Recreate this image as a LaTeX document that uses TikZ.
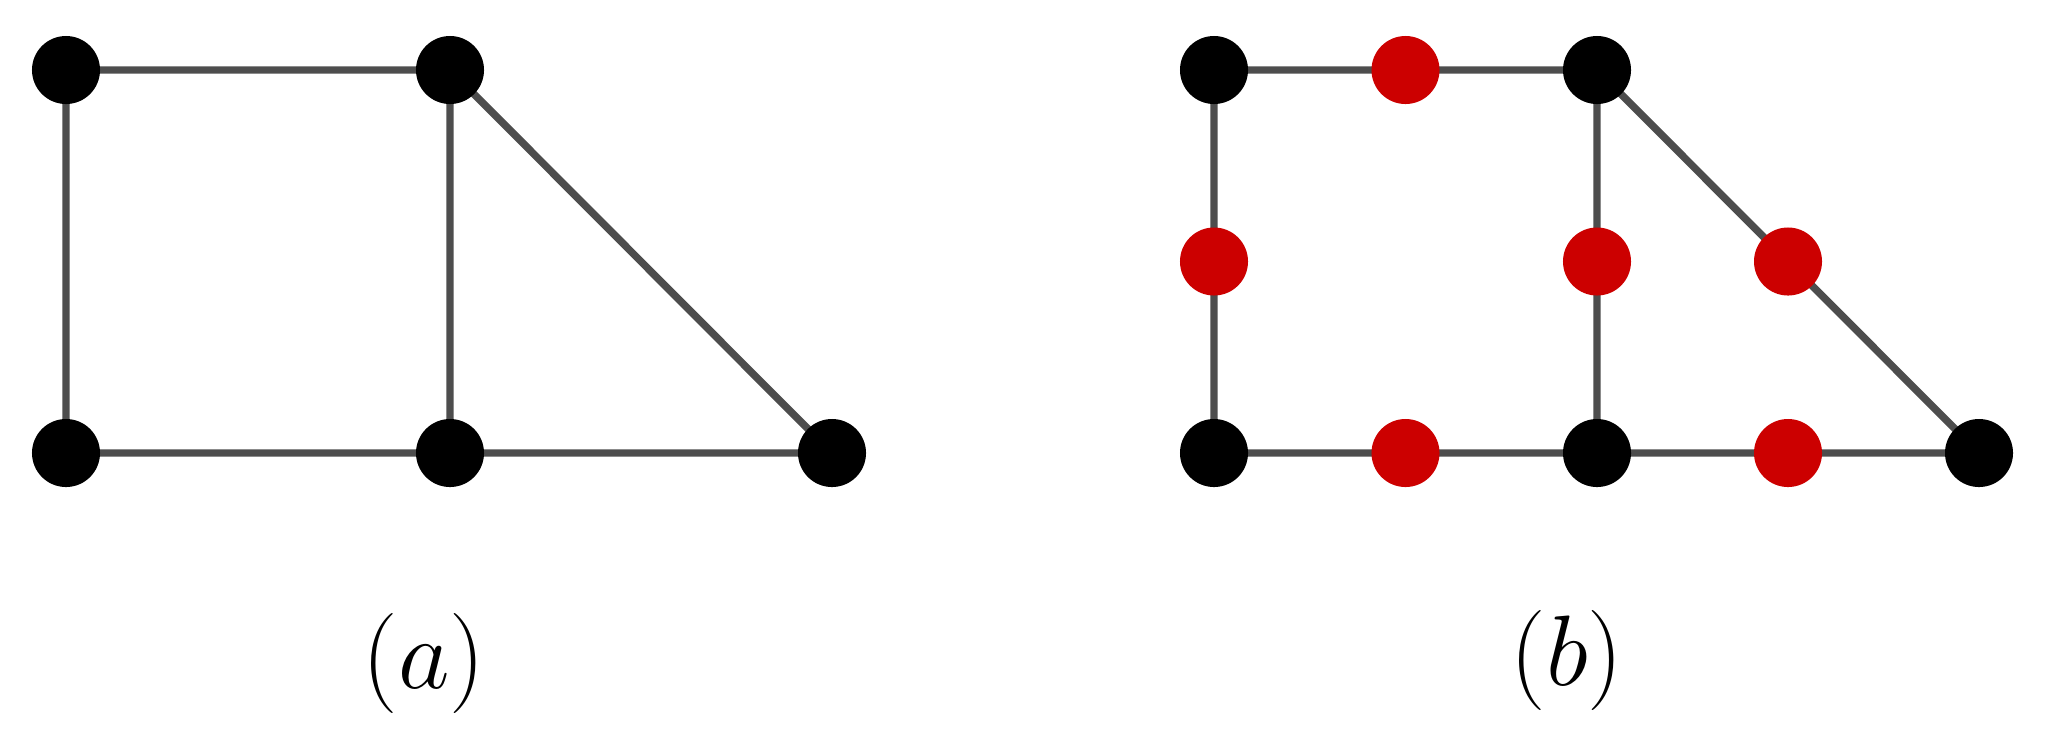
\documentclass[tikz,border=0pt]{standalone}
\usepackage{graphicx}
\usetikzlibrary{calc}
\definecolor{edgegray}{HTML}{4D4D4D}
\definecolor{vred}{HTML}{CC0000}
\newcommand{\biglbl}[1]{\scalebox{1.145}{\Huge$(#1)$}}
\begin{document}
\begin{tikzpicture}[x=0.01cm,y=-0.01cm,
  vtx/.style={circle,fill=black,inner sep=0pt,minimum size=0.68cm},
  rvtx/.style={circle,fill=vred,inner sep=0pt,minimum size=0.68cm},
  edge/.style={draw=edgegray,line width=2.1pt},
  lbl/.style={inner sep=0pt}]
\useasboundingbox (0,0) rectangle (2045,735);
% (a)
\coordinate (a1) at (66,70);
\coordinate (a2) at (450,70);
\coordinate (a3) at (66,453);
\coordinate (a4) at (450,453);
\coordinate (a5) at (832,453);
\draw[edge] (a1) -- (a2) (a1) -- (a3) (a2) -- (a4) (a3) -- (a4) (a4) -- (a5) (a2) -- (a5);
\foreach \n in {a1,a2,a3,a4,a5} \node[vtx] (v\n) at (\n) {};
\node[lbl] (la) at (424,663) {\biglbl{a}};
% (b)
\coordinate (b1) at (1214,70);
\coordinate (b2) at (1597,70);
\coordinate (b3) at (1214,453);
\coordinate (b4) at (1597,453);
\coordinate (b5) at (1979,453);
\draw[edge] (b1) -- (b2) (b1) -- (b3) (b2) -- (b4) (b3) -- (b4) (b4) -- (b5) (b2) -- (b5);
\foreach \n in {b1,b2,b3,b4,b5} \node[vtx] (v\n) at (\n) {};
\node[rvtx] (r12) at ($(b1)!0.5!(b2)$) {};
\node[rvtx] (r13) at ($(b1)!0.5!(b3)$) {};
\node[rvtx] (r24) at ($(b2)!0.5!(b4)$) {};
\node[rvtx] (r25) at ($(b2)!0.5!(b5)$) {};
\node[rvtx] (r34) at ($(b3)!0.5!(b4)$) {};
\node[rvtx] (r45) at ($(b4)!0.5!(b5)$) {};
\node[lbl] (lb) at (1567,660) {\biglbl{b}};
\end{tikzpicture}
\end{document}
